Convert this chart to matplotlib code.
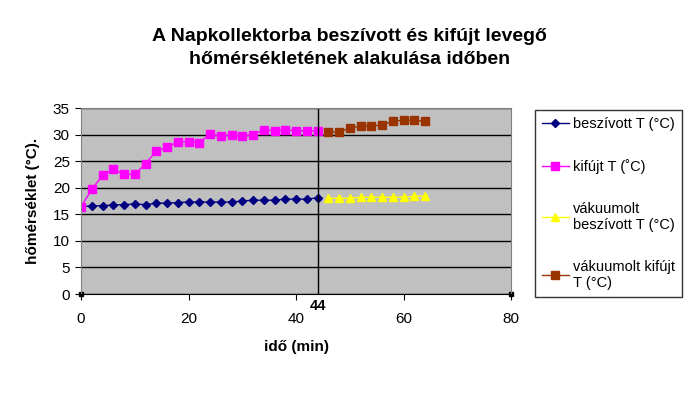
import matplotlib.pyplot as plt

plt.rcParams['font.family'] = ['Liberation Sans', 'DejaVu Sans']

# idő (min) és hőmérsékletek
ido = [0, 2, 4, 6, 8, 10, 12, 14, 16, 18, 20, 22, 24, 26, 28, 30, 32, 34, 36, 38, 40, 42, 44]
beszivott = [16.4, 16.6, 16.6, 16.75, 16.8, 16.95, 16.8, 17.1, 17.1, 17.2, 17.3, 17.3, 17.3, 17.3,
             17.3, 17.5, 17.65, 17.65, 17.65, 17.85, 17.85, 17.85, 18.1]
kifujt = [16.4, 19.7, 22.3, 23.5, 22.5, 22.5, 24.5, 26.9, 27.6, 28.65, 28.65, 28.5, 30.05, 29.7,
          29.95, 29.7, 29.95, 30.9, 30.7, 30.9, 30.7, 30.7, 30.7]

ido_v = [46, 48, 50, 52, 54, 56, 58, 60, 62, 64]
vak_beszivott = [18.0, 18.0, 18.0, 18.2, 18.2, 18.2, 18.2, 18.2, 18.4, 18.4]
vak_kifujt = [30.5, 30.5, 31.2, 31.6, 31.6, 31.8, 32.5, 32.7, 32.7, 32.5]

hatar = 44
sarok_x = [0, 80]
sarok_y = [0, 0]

fig = plt.figure(figsize=(6.97, 4.0), dpi=100)
ax = fig.add_axes([81/697, 106/400, 430/697, 186/400])
ax.set_facecolor('#c0c0c0')

ax.plot(ido, beszivott, color='#000080', marker='D', ms=4.5, lw=1, label='beszívott T (°C)')
ax.plot(ido, kifujt, color='#ff00ff', marker='s', ms=5.5, lw=1, label='kifújt T (˚C)')
ax.plot(ido_v, vak_beszivott, color='#ffff00', marker='^', ms=6, lw=1, label='vákuumolt\nbeszívott T (°C)')
ax.plot(ido_v, vak_kifujt, color='#993300', marker='s', ms=5.5, lw=1, label='vákuumolt kifújt\nT (°C)')
ax.plot(sarok_x, sarok_y, ls='none', marker='s', ms=3, color='black', clip_on=False)

ax.axvline(hatar, color='black', lw=1)
ax.text(hatar, -1.0, str(hatar), ha='center', va='top', fontsize=10.5, fontweight='bold')

ax.set_xlim(0, 80)
ax.set_ylim(0, 35)
ax.set_xticks([0, 20, 40, 60, 80])
ax.set_yticks(range(0, 40, 5))
ax.yaxis.grid(True, color='black', lw=1)
ax.set_axisbelow(True)
ax.tick_params(labelsize=11, length=4, pad=9)
ax.tick_params(axis='y', pad=4)
for s in ['left', 'top', 'right']:
    ax.spines[s].set_color('#808080')
ax.spines['bottom'].set_color('black')

ax.set_xlabel('idő (min)', fontsize=11, fontweight='bold', labelpad=10)
ax.set_ylabel('hőmérséklet (°C).', fontsize=11, fontweight='bold', labelpad=9)

fig.text(0.502, 0.88, 'A Napkollektorba beszívott és kifújt levegő\nhőmérsékletének alakulása időben',
         ha='center', va='center', fontsize=14, fontweight='bold', linespacing=1.45)

leg = fig.legend(loc='upper left', bbox_to_anchor=(535/697, 1 - 110/400), fontsize=10.5,
                 frameon=True, fancybox=False, edgecolor='black', handlelength=1.8,
                 labelspacing=1.9, borderpad=0.5, handletextpad=0.3, borderaxespad=0)
leg.get_frame().set_linewidth(1)

fig.savefig('out.png', dpi=100)
